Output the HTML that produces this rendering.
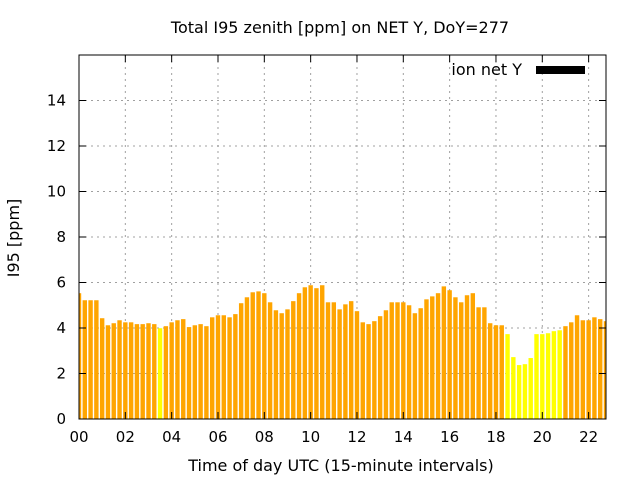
<!DOCTYPE html>
<html><head><meta charset="utf-8"><style>
body{margin:0;background:#fff;}
svg text{font-family:"DejaVu Sans","Liberation Sans",sans-serif;}
</style></head><body>
<svg id="c" width="640" height="480" xmlns="http://www.w3.org/2000/svg">
<rect width="640" height="480" fill="#fff"/>
<text x="340" y="33" font-size="16" text-anchor="middle">Total I95 zenith [ppm] on NET Y, DoY=277</text>
<text x="341" y="471" font-size="16" text-anchor="middle">Time of day UTC (15-minute intervals)</text>
<text transform="translate(19,238) rotate(-90)" font-size="16" text-anchor="middle">I95 [ppm]</text>
<g id="grid"></g><g id="bars"></g><g id="axes"></g>
<rect x="79" y="55" width="527" height="364" fill="none" stroke="#000" stroke-width="1"/>
<text x="522" y="75" font-size="16" text-anchor="end">ion net Y</text>
<rect x="536" y="66" width="49" height="8" fill="#000"/>
</svg>
<script>
const values=[5.53,5.22,5.22,5.22,4.43,4.12,4.21,4.34,4.25,4.25,4.17,4.17,4.21,4.17,3.99,4.08,4.25,4.34,4.39,4.04,4.12,4.17,4.08,4.47,4.56,4.56,4.47,4.61,5.09,5.35,5.57,5.61,5.53,5.13,4.78,4.65,4.82,5.18,5.53,5.79,5.88,5.75,5.88,5.13,5.13,4.82,5.04,5.18,4.74,4.25,4.17,4.30,4.52,4.78,5.13,5.13,5.13,5.0,4.65,4.87,5.26,5.39,5.53,5.83,5.66,5.35,5.13,5.44,5.53,4.91,4.91,4.21,4.12,4.12,3.73,2.72,2.37,2.41,2.68,3.73,3.73,3.77,3.86,3.90,4.08,4.25,4.56,4.34,4.34,4.47,4.39,4.30];
const yTicks=[0,2,4,6,8,10,12,14];
const xTicks=[0,2,4,6,8,10,12,14,16,18,20,22];
const xTickLabels=["00","02","04","06","08","10","12","14","16","18","20","22"];
const threshold=4;
const L=79,R=606,T=55,B=419,XMAX=22.75,YMAX=16;
const xs=h=>L+h/XMAX*(R-L);
const ys=v=>B-v/YMAX*(B-T);
const NS="http://www.w3.org/2000/svg";
function mk(tag,attrs,parent){const e=document.createElementNS(NS,tag);for(const k in attrs)e.setAttribute(k,attrs[k]);document.getElementById(parent).appendChild(e);return e;}
const bw=(xs(0.25)-xs(0))*0.76;
values.forEach((v,i)=>{
 const cx=xs(i*0.25);
 let x0=Math.max(L,cx-bw/2),x1=Math.min(R,cx+bw/2);
 const r=mk('rect',{x:x0,y:ys(v),width:x1-x0,height:B-ys(v),fill:v<threshold?'#ffff00':'#ffa500'},'bars');
 
 
});
yTicks.forEach(t=>{
 const y=ys(t);
 if(t>0){const g=mk('line',{x1:L,x2:R,y1:y,y2:y,stroke:'#a0a0a0','stroke-dasharray':'2,4'},'grid');
 
 }
 mk('line',{x1:L,x2:L+7,y1:y,y2:y,stroke:'#000'},'axes');
 mk('line',{x1:R,x2:R-7,y1:y,y2:y,stroke:'#000'},'axes');
 const tx=mk('text',{x:L-13,y:y+5,'font-size':15,'text-anchor':'end'},'axes');tx.textContent=t;
 
 
});
xTicks.forEach((t,i)=>{
 const x=xs(t);
 if(t>0){const g=mk('line',{x1:x,x2:x,y1:T,y2:B,stroke:'#a0a0a0','stroke-dasharray':'2,4'},'grid');
 
 }
 mk('line',{x1:x,x2:x,y1:B,y2:B-7,stroke:'#000'},'axes');
 mk('line',{x1:x,x2:x,y1:T,y2:T+7,stroke:'#000'},'axes');
 const tx=mk('text',{x:x,y:B+23,'font-size':15,'text-anchor':'middle'},'axes');tx.textContent=xTickLabels[i];
 
 
});
</script>
</body></html>
